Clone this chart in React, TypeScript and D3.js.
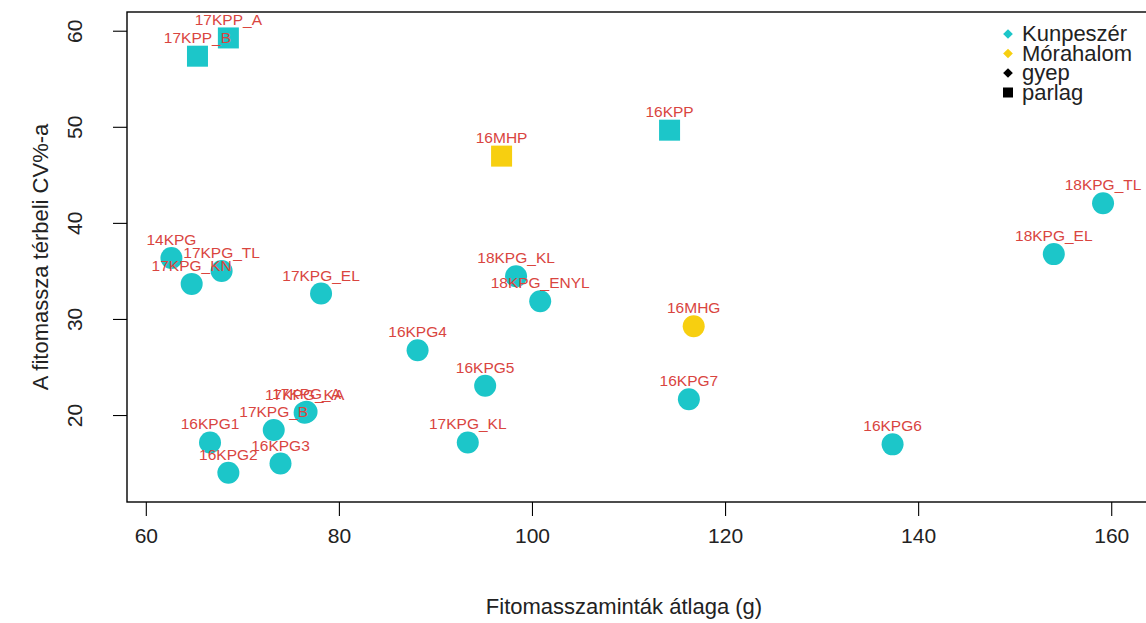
import React from "react";
import * as d3 from "d3";

const labels = ["17KPP_A","17KPP_B","16KPP","16MHP","14KPG","17KPG_KN","17KPG_TL","17KPG_EL","18KPG_KL","18KPG_ENYL","16MHG","18KPG_TL","18KPG_EL","16KPG4","16KPG5","16KPG7","16KPG6","17KPG_KL","16KPG1","16KPG2","16KPG3","17KPG_B","17KPG_KA","17KPG_A"];
const xVals = [68.5,65.3,114.2,96.8,62.6,64.7,67.8,78.1,98.3,100.8,116.7,159.1,154.0,88.1,95.1,116.2,137.3,93.3,66.6,68.5,73.9,73.2,76.4,76.6];
const yVals = [59.3,57.4,49.7,47.0,36.4,33.7,35.05,32.7,34.5,31.9,29.3,42.1,36.8,26.8,23.1,21.7,17.0,17.2,17.2,14.05,15.0,18.5,20.3,20.4];
const sites = ["K","K","K","M","K","K","K","K","K","K","M","K","K","K","K","K","K","K","K","K","K","K","K","K"];
const types = ["parlag","parlag","parlag","parlag","gyep","gyep","gyep","gyep","gyep","gyep","gyep","gyep","gyep","gyep","gyep","gyep","gyep","gyep","gyep","gyep","gyep","gyep","gyep","gyep"];
const xTicks = [60,80,100,120,140,160];
const yTicks = [20,30,40,50,60];
const legendLabels = ["Kunpeszér","Mórahalom","gyep","parlag"];
const xTitle = "Fitomasszaminták átlaga (g)";
const yTitle = "A fitomassza térbeli CV%-a";

const COL: Record<string,string> = { K: "#1cc6c9", M: "#f7cf10" };
const LABEL_COL = "#d9453f";
const FONT = "'Liberation Sans', Arial, sans-serif";

export default function App() {
  const W = 1146, H = 623;
  const box = { left: 127, right: 1160, top: 12, bottom: 502 };
  const x = d3.scaleLinear().domain([58.0, 165.0]).range([box.left, box.right]);
  const y = d3.scaleLinear().domain([11.0, 62.0]).range([box.bottom, box.top]);
  const r = 11;
  const sq = 21;
  const idx = d3.range(labels.length);
  const diamond = d3.symbol().type(d3.symbolDiamond2).size(60)();
  return (
    <svg width={W} height={H} style={{ position: "absolute", left: 0, top: 0, background: "#fff" }} fontFamily={FONT}>
      <rect x={0} y={0} width={W} height={H} fill="#fff" />
      <rect x={box.left} y={box.top} width={box.right - box.left} height={box.bottom - box.top} fill="none" stroke="#000" strokeWidth={1.4} />
      {xTicks.map(t => (
        <g key={"xt" + t}>
          <line x1={x(t)} x2={x(t)} y1={box.bottom} y2={box.bottom + 14} stroke="#000" strokeWidth={1.1} />
          <text x={x(t)} y={543} textAnchor="middle" fontSize={21} fill="#222">{t}</text>
        </g>
      ))}
      {yTicks.map(t => (
        <g key={"yt" + t}>
          <line x1={box.left - 14} x2={box.left} y1={y(t)} y2={y(t)} stroke="#000" strokeWidth={1.1} />
          <text transform={`translate(82,${y(t)}) rotate(-90)`} textAnchor="middle" fontSize={21} fill="#222">{t}</text>
        </g>
      ))}
      <text x={624} y={614} textAnchor="middle" fontSize={22} fill="#222">{xTitle}</text>
      <text transform={`translate(48,${(box.top + box.bottom) / 2}) rotate(-90)`} textAnchor="middle" fontSize={22} fill="#222">{yTitle}</text>
      {idx.map(i => types[i] === "parlag" ? (
        <rect key={"m" + i} x={x(xVals[i]) - sq / 2} y={y(yVals[i]) - sq / 2} width={sq} height={sq} fill={COL[sites[i]]} />
      ) : (
        <circle key={"m" + i} cx={x(xVals[i])} cy={y(yVals[i])} r={r} fill={COL[sites[i]]} />
      ))}
      {idx.map(i => (
        <text key={"l" + i} x={x(xVals[i])} y={y(yVals[i]) - 13} textAnchor="middle" fontSize={15.5} fill={LABEL_COL}>{labels[i]}</text>
      ))}
      {legendLabels.map((l, i) => {
        const cy = 34 + i * 19.5;
        const sym = i === 3
          ? <rect x={1008 - 5} y={cy - 5} width={10} height={10} fill="#000" />
          : <path d={diamond} transform={`translate(1008,${cy})`} fill={i === 0 ? COL.K : i === 1 ? COL.M : "#000"} />;
        return (
          <g key={"lg" + i}>
            {sym}
            <text x={1022} y={cy + 7} fontSize={22} fill="#222">{l}</text>
          </g>
        );
      })}
    </svg>
  );
}
